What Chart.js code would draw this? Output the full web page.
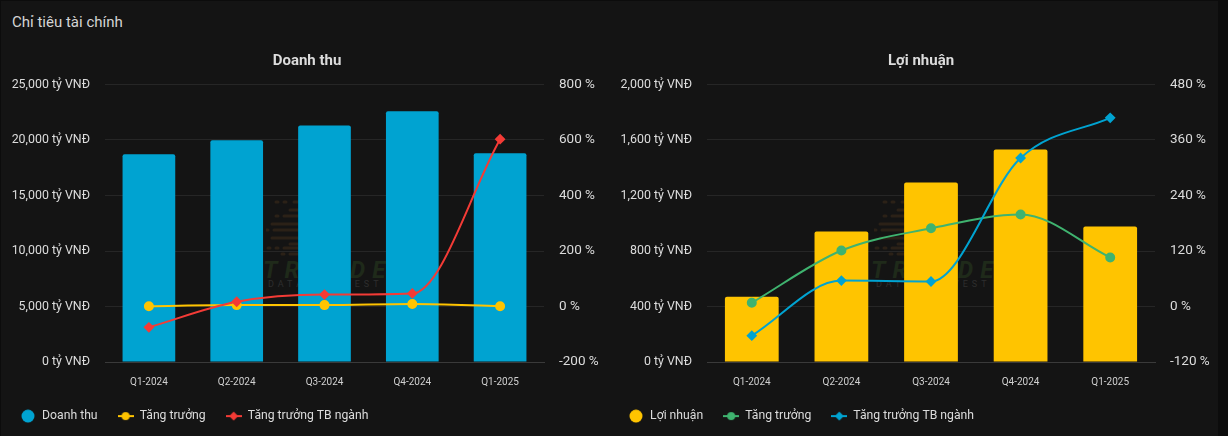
<!DOCTYPE html>
<html><head><meta charset="utf-8">
<style>
html,body{margin:0;padding:0;background:#0c0c0c;width:1228px;height:436px;overflow:hidden;font-family:Roboto,sans-serif}
#panel{position:absolute;left:1px;top:1px;width:1217px;height:435px;background:#141414}
#head{position:absolute;left:12px;top:13px;font:15px Roboto,sans-serif;color:#d4d4d4}
.box{position:absolute;top:40px;height:396px}
#b1{left:0;width:614px}#b2{left:614px;width:614px}
canvas{display:block}
.wm{position:absolute;top:256px;white-space:nowrap;color:#1f2a1a;font:italic 700 24px Roboto,sans-serif;letter-spacing:7px}
.ws{position:absolute;top:279px;white-space:nowrap;color:#2e2e2e;font:9px Roboto,sans-serif;letter-spacing:4px}
.ic{position:absolute;top:198px;width:90px;height:60px}
</style>
<script src="https://cdn.jsdelivr.net/npm/chart.js@4/dist/chart.umd.js"></script>
</head><body>
<div id="panel"></div>
<div id="head">Chỉ tiêu tài chính</div>
<svg class="ic" style="left:266px" viewBox="0 0 90 60"><g stroke="#2b2117" stroke-width="3" stroke-linecap="round"><path d="M10 4h2M18 4h2M28 4h12M24 12h20M10 18h2M18 18h24M6 26h30M0 32h2M8 32h30M6 40h34M24 46h20M2 50h2M10 50h2M18 50h20M16 56h2M24 56h16"/></g></svg>
<svg class="ic" style="left:874px" viewBox="0 0 90 60"><g stroke="#2b2117" stroke-width="3" stroke-linecap="round"><path d="M10 4h2M18 4h2M28 4h12M24 12h20M10 18h2M18 18h24M6 26h30M0 32h2M8 32h30M6 40h34M24 46h20M2 50h2M10 50h2M18 50h20M16 56h2M24 56h16"/></g></svg>
<div class="wm" style="left:263px">TRA</div><div class="wm" style="left:350px">DE</div><div class="ws" style="left:268px">DATA &amp; INVEST</div>
<div class="wm" style="left:871px">TRA</div><div class="wm" style="left:958px">DE</div><div class="ws" style="left:876px">DATA &amp; INVEST</div>
<div class="box" id="b1"><canvas id="c1" width="614" height="396"></canvas></div>
<div class="box" id="b2"><canvas id="c2" width="614" height="396"></canvas></div>
<script>
const categories=["Q1-2024","Q2-2024","Q3-2024","Q4-2024","Q1-2025"];
const revenue=[18720,19980,21310,22600,18800];
const revenueGrowth=[1,5,5,9,1];
const revenueIndustry=[-75,17,43,47,603];
const profit=[470,940,1294,1532,976];
const profitGrowth=[8,121,169,199,106];
const profitIndustry=[-63,56,54,321,408];
const revTicks=[0,5000,10000,15000,20000,25000];
const revPct=[-200,0,200,400,600,800];
const proTicks=[0,400,800,1200,1600,2000];
const proPct=[-120,0,120,240,360,480];

function lineIcon(color,diamond){
  const w=16,h=12,c=document.createElement('canvas');
  c.width=w;c.height=h;
  const x=c.getContext('2d');
  x.strokeStyle=color;x.fillStyle=color;x.lineWidth=2;
  x.beginPath();x.moveTo(0,h/2);x.lineTo(w,h/2);x.stroke();
  x.beginPath();
  if(diamond){x.moveTo(w/2,h/2-4.5);x.lineTo(w/2+4.5,h/2);x.lineTo(w/2,h/2+4.5);x.lineTo(w/2-4.5,h/2);x.closePath();}
  else x.arc(w/2,h/2,4,0,Math.PI*2);
  x.fill();return c;
}
function dotIcon(color){
  const c=document.createElement('canvas');c.width=14;c.height=14;
  const x=c.getContext('2d');x.fillStyle=color;x.beginPath();x.arc(7,7,6.5,0,Math.PI*2);x.fill();return c;
}
function build(id,title,barName,bars,barCol,l1,c1,l2,c2,yMax,yT,pMin,pMax,pT,cat,leftPad,plotW,barPct,legendShift){
  const fmt=v=>v.toLocaleString('en-US')+' tỷ VNĐ';
  new Chart(document.getElementById(id),{
    data:{labels:cat,datasets:[
      {type:'line',label:'Tăng trưởng',data:l1,yAxisID:'y2',borderColor:c1,backgroundColor:c1,borderWidth:2,pointStyle:'circle',pointRadius:4,pointHoverRadius:4,cubicInterpolationMode:'monotone',order:1},
      {type:'line',label:'Tăng trưởng TB ngành',data:l2,yAxisID:'y2',borderColor:c2,backgroundColor:c2,borderWidth:2,pointStyle:'rectRot',pointRadius:4,pointHoverRadius:4,cubicInterpolationMode:'monotone',order:0},
      {type:'bar',label:barName,data:bars,yAxisID:'y',backgroundColor:barCol,borderRadius:{topLeft:2,topRight:2},barPercentage:barPct,categoryPercentage:1,order:2}
    ]},
    options:{responsive:false,animation:false,
      layout:{padding:{top:0,left:0,right:0,bottom:0}},
      plugins:{
        title:{display:true,text:title,color:'#dcdcdc',font:{family:'Roboto',size:15,weight:'bold'},padding:{top:12,bottom:14.5}},
        tooltip:{enabled:false},
        legend:{position:'bottom',align:'start',
          labels:{usePointStyle:true,pointStyleWidth:16,color:'#dcdcdc',font:{family:'Roboto',size:12.2},boxHeight:14,boxWidth:14,padding:20,
            generateLabels:ch=>{
              const ds=ch.data.datasets;
              return [2,0,1].map(i=>({text:ds[i].label,datasetIndex:i,fontColor:'#dcdcdc',hidden:false,lineWidth:0,
                strokeStyle:'transparent',fillStyle:ds[i].backgroundColor,
                pointStyle:i===2?dotIcon(barCol):lineIcon(ds[i].borderColor,i===1)}));
            }}}
      },
      scales:{
        x:{ticks:{color:'#d0d0d0',font:{family:'Roboto',size:10},padding:14,maxRotation:0},grid:{display:false,drawTicks:false},border:{color:'#3a3a3a'}},
        y:{position:'left',min:0,max:yMax,afterBuildTicks:a=>{a.ticks=yT.map(v=>({value:v}))},
           afterFit:a=>{a.width=leftPad},
           ticks:{color:'#dcdcdc',font:{family:'Roboto',size:12.4},padding:15,callback:fmt},
           grid:{color:'#262626',drawTicks:false},border:{display:false}},
        y2:{position:'right',min:pMin,max:pMax,afterBuildTicks:a=>{a.ticks=pT.map(v=>({value:v}))},
           afterFit:a=>{a.width=614-leftPad-plotW},
           ticks:{color:'#dcdcdc',font:{family:'Roboto',size:13.5},padding:15,callback:v=>v+' %'},
           grid:{display:false,drawTicks:false},border:{display:false}}
      }
    },
    plugins:[{id:'fitLegend',
      afterInit(ch){const lg=ch.legend;const o=lg.fit;lg.fit=function(){o.call(this);this.height=34;};},
      afterLayout(ch){ch.legend.top-=12;ch.legend.left+=legendShift;}
    }]
  });
}
build('c1','Doanh thu','Doanh thu',revenue,'#00a3d1',revenueGrowth,'#ffc400',revenueIndustry,'#f43b36',25000,revTicks,-200,800,revPct,categories,105,439,0.6,0);
build('c2','Lợi nhuận','Lợi nhuận',profit,'#ffc400',profitGrowth,'#3fb36f',profitIndustry,'#00a3d1',2000,proTicks,-120,480,proPct,categories,93,448,0.6,-6);
</script>
</body></html>
